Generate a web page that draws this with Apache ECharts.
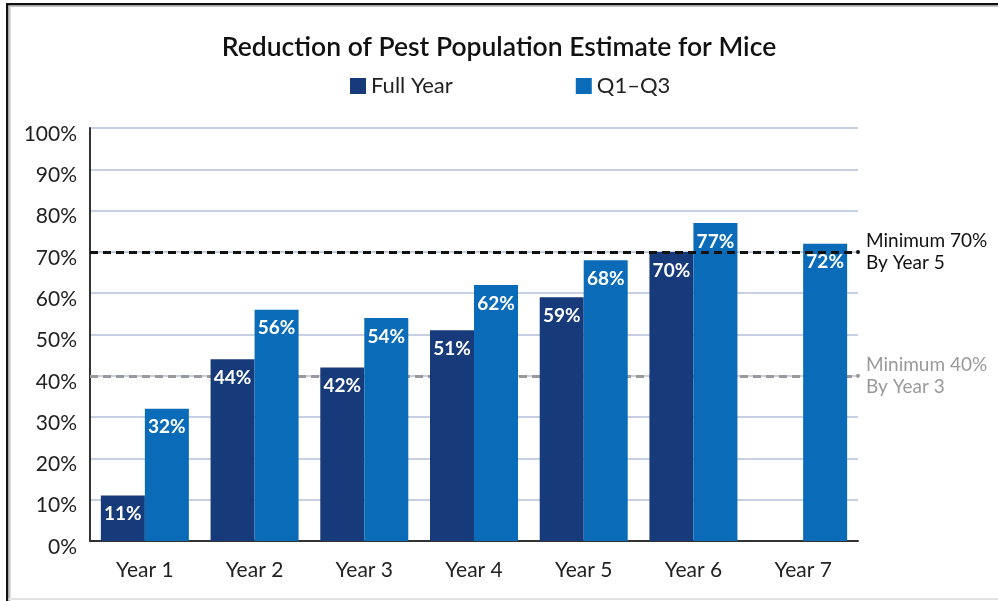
<!DOCTYPE html>
<html>
<head>
<meta charset="utf-8">
<script src="https://cdn.jsdelivr.net/npm/echarts@6/dist/echarts.min.js"></script>
<style>
  html, body { margin: 0; padding: 0; background: #fff; }
  #chart { width: 998px; height: 601px; }
</style>
</head>
<body>
<div id="chart"></div>
<script>
// Reduction of pest population, mice: yearly estimates in percent
const years = ['Year 1', 'Year 2', 'Year 3', 'Year 4', 'Year 5', 'Year 6', 'Year 7'];
const fullYear = [11, 44, 42, 51, 59, 70, null];
const q1q3 = [32, 56, 54, 62, 68, 77, 72];
const yTicks = [0, 10, 20, 30, 40, 50, 60, 70, 80, 90, 100];
const targets = [
  { value: 70, text: 'Minimum 70%\nBy Year 5' },
  { value: 40, text: 'Minimum 40%\nBy Year 3' }
];

const FONT = 'Lato, "Open Sans", sans-serif';
const DARK = '#173b7a';
const LIGHT = '#0a6cb8';

const chart = echarts.init(document.getElementById('chart'), null, { renderer: 'canvas' });

const barLabel = {
  show: true,
  position: 'insideTop',
  distance: 9,
  color: '#fff',
  fontFamily: FONT,
  fontWeight: 'bold',
  fontSize: 19,
  formatter: p => p.value == null ? '' : p.value + '%'
};

function targetLine(t, color) {
  return {
    yAxis: t.value,
    lineStyle: { color: color, type: [8, 5], width: 3 },
    label: {
      show: true,
      position: 'end',
      distance: 8,
      formatter: t.text,
      color: color,
      fontFamily: FONT,
      fontSize: 19,
      lineHeight: 22,
      align: 'left'
    }
  };
}

chart.setOption({
  animation: false,
  backgroundColor: '#fff',
  textStyle: { fontFamily: FONT },
  title: {
    text: 'Reduction of Pest Population Estimate for Mice',
    left: 'center',
    top: 29,
    textStyle: { fontFamily: FONT, fontSize: 26.5, fontWeight: 600, color: '#111' }
  },
  legend: {
    left: 345,
    top: 70,
    itemWidth: 16,
    itemHeight: 16,
    itemGap: 123,
    icon: 'rect',
    textStyle: { fontFamily: FONT, fontSize: 22, color: '#222' },
    data: ['Full Year', 'Q1–Q3']
  },
  grid: { left: 90, right: 140, top: 128, bottom: 60, containLabel: false },
  xAxis: {
    type: 'category',
    data: years,
    axisLine: { lineStyle: { color: '#333', width: 2 } },
    axisTick: { show: false },
    axisLabel: { fontFamily: FONT, fontSize: 21, color: '#222', margin: 19 }
  },
  yAxis: {
    type: 'value',
    min: yTicks[0],
    max: yTicks[yTicks.length - 1],
    interval: yTicks[1] - yTicks[0],
    axisLine: { show: true, lineStyle: { color: '#333', width: 2 } },
    axisTick: { show: false },
    splitLine: { lineStyle: { color: '#c6d0e2', width: 2 } },
    axisLabel: {
      fontFamily: FONT, fontSize: 21, color: '#222', margin: 13,
      verticalAlign: 'top',
      lineHeight: 12,
      formatter: '{value}%'
    }
  },
  series: [
    {
      name: 'Full Year',
      type: 'bar',
      data: fullYear,
      barWidth: 44,
      barGap: '0%',
      z: 3,
      itemStyle: { color: DARK },
      label: barLabel
    },
    {
      name: 'Q1–Q3',
      type: 'bar',
      data: q1q3,
      barWidth: 44,
      barGap: '0%',
      z: 3,
      itemStyle: { color: LIGHT },
      label: barLabel
    },
    {
      // 40% target sits behind the bars
      name: 'target40',
      type: 'line',
      data: [],
      z: 1,
      markLine: {
        silent: true,
        z: 1,
        symbol: ['none', 'circle'],
        symbolSize: 4,
        data: [targetLine(targets[1], '#9a9a9a')]
      }
    },
    {
      // 70% target drawn over the bars
      name: 'target70',
      type: 'line',
      data: [],
      z: 5,
      markLine: {
        silent: true,
        z: 6,
        symbol: ['none', 'circle'],
        symbolSize: 4,
        data: [targetLine(targets[0], '#111')]
      }
    }
  ],
  graphic: [
    { type: 'rect', shape: { x: 6, y: 3, width: 2.5, height: 601 }, style: { fill: '#111' }, z: 100 },
    { type: 'rect', shape: { x: 8.5, y: 5.5, width: 2, height: 601 }, style: { fill: '#c4c4c4' }, z: 100 },
    { type: 'rect', shape: { x: 6, y: 3, width: 992, height: 2.5 }, style: { fill: '#111' }, z: 100 },
    { type: 'rect', shape: { x: 8.5, y: 5.5, width: 990, height: 1.5 }, style: { fill: '#c4c4c4' }, z: 100 },
    { type: 'rect', shape: { x: 8.5, y: 598, width: 990, height: 2 }, style: { fill: '#e2e2e2' }, z: 100 }
  ]
});
</script>
</body>
</html>
